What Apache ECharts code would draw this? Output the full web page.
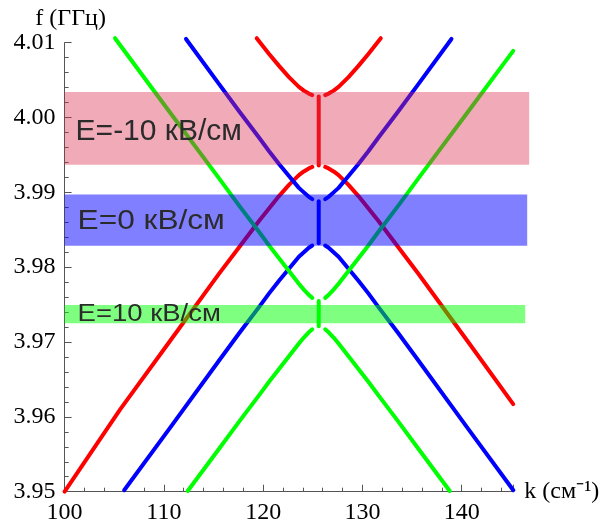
<!DOCTYPE html>
<html>
<head>
<meta charset="utf-8">
<script src="https://cdn.jsdelivr.net/npm/echarts@6/dist/echarts.min.js"></script>
<style>
  html, body { margin: 0; padding: 0; background: #fff; }
  #chart { width: 613px; height: 531px; }
</style>
</head>
<body>
<div id="chart"></div>
<script>
// ветви дисперсии, [k, f], читаются с рисунка
const redUpperLeft = [[119.35, 4.0106], [120.6, 4.0085], [121.6, 4.0069], [122.6, 4.0054], [123.6, 4.0041], [124.1, 4.0036], [124.6, 4.0032], [124.95, 4.0030]];
const redUpperRight = [[126.25, 4.0030], [126.6, 4.0032], [127.1, 4.0036], [127.6, 4.0041], [128.6, 4.0054], [129.6, 4.0069], [130.6, 4.0085], [131.85, 4.0106]];
const redLowerLeft = [[100, 3.9500], [105.6, 3.9610], [110.6, 3.9701], [115.6, 3.9792], [117.6, 3.9827], [119.6, 3.9862], [121.6, 3.9895], [122.6, 3.9910], [123.6, 3.9923], [124.1, 3.9928], [124.6, 3.9932], [124.95, 3.9934]];
const redLowerRight = [[126.25, 3.9934], [126.6, 3.9932], [127.1, 3.9928], [127.6, 3.9923], [128.6, 3.9910], [129.6, 3.9895], [131.6, 3.9862], [133.6, 3.9827], [135.6, 3.9792], [140.6, 3.9701], [145.19, 3.9617]];
const redGap = [[125.6, 4.0028], [125.6, 3.9936]];

const blueUpperLeft = [[112.23, 4.0105], [115.6, 4.0044], [117.6, 4.0008], [119.6, 3.9973], [120.6, 3.9955], [121.6, 3.9938], [122.6, 3.9922], [123.6, 3.9906], [124.1, 3.9900], [124.6, 3.9894], [124.95, 3.9891]];
const blueUpperRight = [[126.25, 3.9891], [126.6, 3.9894], [127.1, 3.9900], [127.6, 3.9906], [128.6, 3.9922], [129.6, 3.9938], [130.6, 3.9955], [131.6, 3.9973], [133.6, 4.0008], [135.6, 4.0044], [138.97, 4.0105]];
const blueLowerLeft = [[106.0, 3.9502], [110.6, 3.9585], [115.6, 3.9676], [117.6, 3.9712], [119.6, 3.9747], [120.6, 3.9765], [121.6, 3.9782], [122.6, 3.9798], [123.6, 3.9814], [124.1, 3.9820], [124.6, 3.9826], [124.95, 3.9829]];
const blueLowerRight = [[126.25, 3.9829], [126.6, 3.9826], [127.1, 3.9820], [127.6, 3.9814], [128.6, 3.9798], [129.6, 3.9782], [130.6, 3.9765], [131.6, 3.9747], [133.6, 3.9712], [135.6, 3.9676], [140.6, 3.9585], [145.2, 3.9502]];
const blueGap = [[125.6, 3.9888], [125.6, 3.9832]];

const greenUpperLeft = [[105.08, 4.0106], [110.6, 4.0007], [115.6, 3.9918], [117.6, 3.9882], [119.6, 3.9847], [120.6, 3.9829], [121.6, 3.9812], [122.6, 3.9795], [123.6, 3.9778], [124.1, 3.9770], [124.6, 3.9763], [124.95, 3.9759]];
const greenUpperRight = [[126.25, 3.9759], [126.6, 3.9763], [127.1, 3.9770], [127.6, 3.9778], [128.6, 3.9795], [129.6, 3.9812], [130.6, 3.9829], [131.6, 3.9847], [133.6, 3.9882], [135.6, 3.9918], [140.6, 4.0007], [145.19, 4.0089]];
const greenLowerLeft = [[112.4, 3.9501], [115.6, 3.9558], [117.6, 3.9594], [119.6, 3.9629], [120.6, 3.9647], [121.6, 3.9664], [122.6, 3.9681], [123.6, 3.9698], [124.1, 3.9706], [124.6, 3.9713], [124.95, 3.9717]];
const greenLowerRight = [[126.25, 3.9717], [126.6, 3.9713], [127.1, 3.9706], [127.6, 3.9698], [128.6, 3.9681], [129.6, 3.9664], [130.6, 3.9647], [131.6, 3.9629], [133.6, 3.9594], [135.6, 3.9558], [138.8, 3.9501]];
const greenGap = [[125.6, 3.9755], [125.6, 3.9721]];

// полосы поля E
const bandLabels = ["E=-10 кВ/см", "E=0 кВ/см", "E=10 кВ/см"];
const bandStartK = [100, 100, 100];
const bandEndK = [146.8, 146.6, 146.4];
const bandLow = [3.9937, 3.98285, 3.97251];
const bandHigh = [4.0034, 3.9897, 3.97496];

// стиль
const bandColors = ["rgba(217, 42, 78, 0.4)", "rgba(0, 0, 255, 0.5)", "rgba(0, 255, 0, 0.5)"];
const bandFontSize = [30, 28, 23.5];
const bandScaleX = [1.0, 1.13, 1.17];
const bandTextDx = [11, 13, 13];
const bandTextDy = [3, 1, 0];

const curves = [
  { color: "#ff0000", pieces: [redUpperLeft, redUpperRight, redLowerLeft, redLowerRight, redGap] },
  { color: "#0000ff", pieces: [blueUpperLeft, blueUpperRight, blueLowerLeft, blueLowerRight, blueGap] },
  { color: "#00ff00", pieces: [greenUpperLeft, greenUpperRight, greenLowerLeft, greenLowerRight, greenGap] },
];

const series = [];
curves.forEach((c) => {
  c.pieces.forEach((p) => {
    series.push({
      type: "line",
      data: p,
      showSymbol: false,
      symbol: "none",
      clip: false,
      silent: true,
      z: 2,
      lineStyle: { color: c.color, width: 4, cap: "round", join: "round" },
    });
  });
});

const bandData = bandLabels.map((name, i) => [bandStartK[i], bandEndK[i], bandLow[i], bandHigh[i], i]);

series.push({
  type: "custom",
  clip: false,
  silent: true,
  z: 10,
  encode: { x: [0, 1], y: [2, 3] },
  data: bandData,
  renderItem: function (params, api) {
    const i = api.value(4);
    const p0 = api.coord([api.value(0), api.value(3)]);
    const p1 = api.coord([api.value(1), api.value(2)]);
    return {
      type: "group",
      children: [
        {
          type: "rect",
          shape: { x: p0[0], y: p0[1], width: p1[0] - p0[0], height: p1[1] - p0[1] },
          style: { fill: bandColors[i] },
        },
        {
          type: "text",
          x: p0[0] + bandTextDx[i],
          y: (p0[1] + p1[1]) / 2 + bandTextDy[i],
          scaleX: bandScaleX[i],
          style: {
            text: bandLabels[i],
            fill: "#2b2b2b",
            font: bandFontSize[i] + "px 'Liberation Sans', Arial, sans-serif",
            verticalAlign: "middle",
            align: "left",
          },
        },
      ],
    };
  },
});

var myChart = echarts.init(document.getElementById("chart"));

var axisFont = "'Liberation Serif', 'Times New Roman', serif";

var option = {
  backgroundColor: "#fff",
  animation: false,
  grid: { left: 64.6, right: 99.7, top: 42.7, bottom: 39.3, containLabel: false },
  xAxis: {
    type: "value",
    min: 100,
    max: 145.2,
    interval: 10,
    name: "k (см⁻¹)",
    nameLocation: "end",
    nameGap: 11,
    nameTextStyle: { fontFamily: axisFont, fontSize: 24, color: "#000", verticalAlign: "middle" },
    axisLine: { show: true, lineStyle: { color: "#555", width: 1 } },
    axisTick: { show: true, inside: true, length: 7, lineStyle: { color: "#555" } },
    minorTick: { show: true, splitNumber: 5, length: 4, lineStyle: { color: "#555" } },
    splitLine: { show: false },
    axisLabel: {
      margin: 9,
      fontFamily: axisFont,
      fontSize: 24,
      color: "#000",
      formatter: (v) => (Math.abs(v % 10) < 1e-6 ? String(v) : ""),
    },
  },
  yAxis: {
    type: "value",
    min: 3.95,
    max: 4.01,
    interval: 0.01,
    name: "f (ГГц)",
    nameLocation: "end",
    nameGap: 11,
    nameTextStyle: { fontFamily: axisFont, fontSize: 24, color: "#000", padding: [0, 0, 0, 12] },
    axisLine: { show: true, lineStyle: { color: "#555", width: 1 } },
    axisTick: { show: true, inside: true, length: 7, lineStyle: { color: "#555" } },
    minorTick: { show: true, splitNumber: 5, length: 4, lineStyle: { color: "#555" } },
    splitLine: { show: false },
    axisLabel: {
      margin: 9,
      fontFamily: axisFont,
      fontSize: 24,
      color: "#000",
      formatter: (v) => v.toFixed(2),
    },
  },
  series: series,
};

myChart.setOption(option);
</script>
</body>
</html>
